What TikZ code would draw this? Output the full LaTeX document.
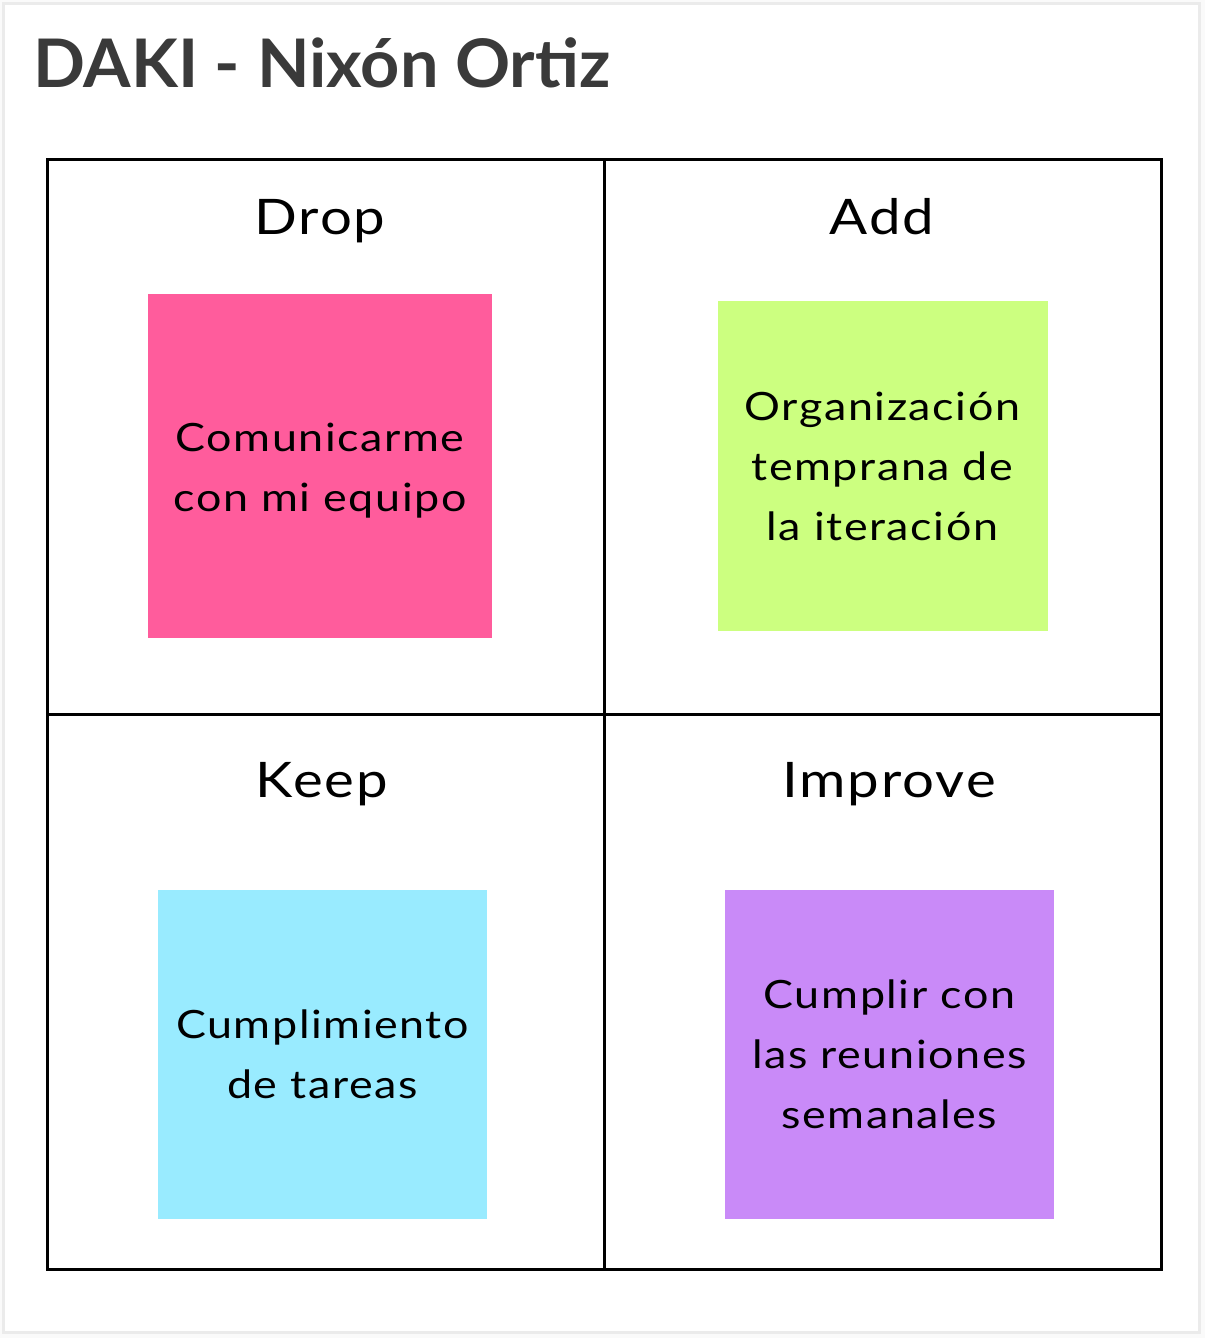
\documentclass[tikz,border=0pt]{standalone}
\usepackage{fontspec}
\setmainfont{Lato}
\newfontfamily\bodyfont[FakeStretch=1.15,LetterSpace=4]{Lato}
\newfontfamily\titlefont[FakeStretch=1.02]{Lato}
\definecolor{titlegray}{HTML}{3A3A3A}
\definecolor{framegray}{HTML}{EBEBEB}
\definecolor{outergray}{HTML}{FAFAFA}
\definecolor{stpink}{HTML}{FF5C9C}
\definecolor{stgreen}{HTML}{CCFF80}
\definecolor{stcyan}{HTML}{99EBFF}
\definecolor{stpurple}{HTML}{C98AF8}
\begin{document}
\begin{tikzpicture}[x=1pt,y=-1pt,
  sticky/.style={draw=none,minimum width=#1,minimum height=#1,inner sep=0pt,align=center,
    font=\bodyfont\fontsize{39}{60}\selectfont,text=black},
  stickytext/.style={inner sep=0pt,align=center,font=\bodyfont\fontsize{39}{60}\selectfont,text=black},
  header/.style={anchor=base,inner sep=0pt,font=\bodyfont\fontsize{49}{55}\selectfont,text=black},
  gridline/.style={line width=3pt,draw=black}]
\useasboundingbox (0,0) rectangle (1205,1338);
\fill[outergray] (0,0) rectangle (1205,1338);
\draw[framegray,line width=3pt,fill=white] (3,4) rectangle (1199,1332);
\node[anchor=base west,inner sep=0pt,text=titlegray,font=\titlefont\fontsize{67}{70}\selectfont\bfseries] (title) at (33,88) {DAKI - Nixón Ortiz};
% grid
\coordinate (tl) at (47,159);
\coordinate (br) at (1161,1269);
\draw[gridline] (tl) rectangle (br);
\coordinate (vt) at (604,159);
\coordinate (vb) at (604,1269);
\coordinate (hl) at (47,714);
\coordinate (hr) at (1161,714);
\draw[gridline] (vt) -- (vb);
\draw[gridline] (hl) -- (hr);
% headers
\node[header] (drop) at (320,234) {Drop};
\node[header] (add) at (882,234) {Add};
\node[header] (keep) at (322,797) {Keep};
\node[header] (improve) at (889,797) {Improve};
% stickies
\node[sticky=344pt,fill=stpink] (s1) at (320,466) {};
\node[stickytext] (t1) at ([yshift=-5pt]s1.center) {Comunicarme\\con mi equipo};
\node[sticky=330pt,fill=stgreen] (s2) at (882.5,466) {Organización\\temprana de\\la iteración};
\node[sticky=329pt,fill=stcyan] (s3) at (322.5,1054.5) {Cumplimiento\\de tareas};
\node[sticky=329pt,fill=stpurple] (s4) at (889.5,1054.5) {Cumplir con\\las reuniones\\semanales};
\end{tikzpicture}
\end{document}
